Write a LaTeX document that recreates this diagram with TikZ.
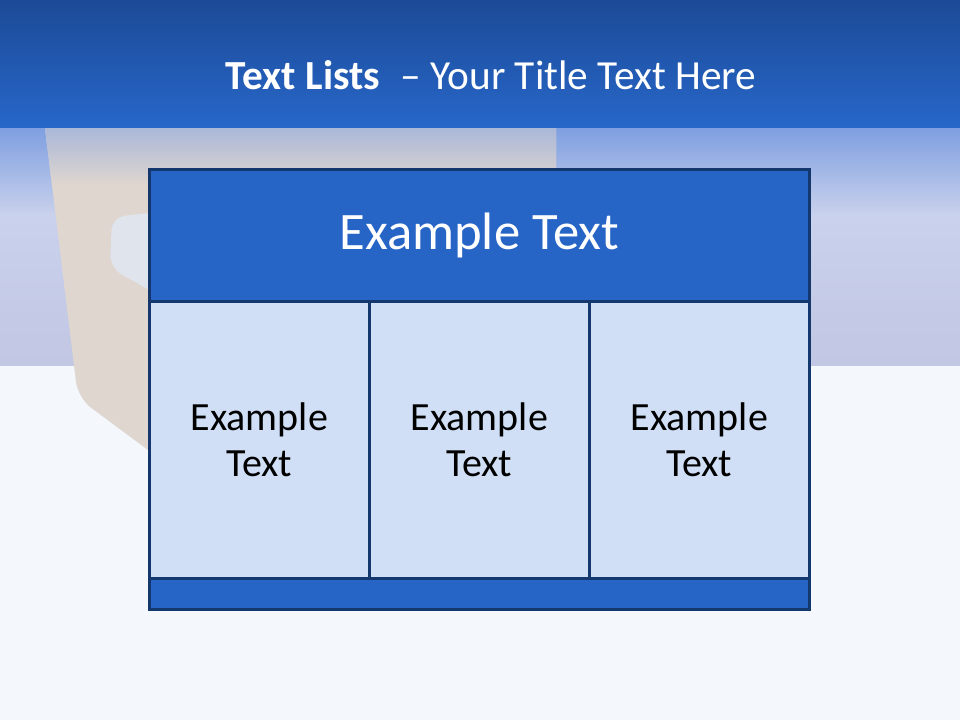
\documentclass[tikz,border=0pt]{standalone}
\usepackage{fontspec}
\setmainfont{Carlito}
\definecolor{bandtop}{HTML}{1C4A97}
\definecolor{bandlow}{HTML}{2767C9}
\definecolor{skyhi}{HTML}{7E9FE0}
\definecolor{skymid}{HTML}{C9D1EC}
\definecolor{lavender}{HTML}{C2C7E3}
\definecolor{floorcol}{HTML}{F4F7FB}
\definecolor{beige}{HTML}{DFD6CF}
\definecolor{handlecol}{HTML}{E0E4EC}
\definecolor{boxblue}{HTML}{2664C6}
\definecolor{cellblue}{HTML}{D0DFF5}
\definecolor{edgeblue}{HTML}{14386E}
\begin{document}
\begin{tikzpicture}[x=0.75pt, y=-0.75pt,
  headbox/.style={draw=edgeblue, line width=2pt, fill=boxblue, text=white,
    anchor=north west, inner sep=0pt, minimum width=495pt},
  cellbox/.style={draw=edgeblue, line width=2pt, fill=cellblue, text=black,
    anchor=north west, inner sep=0pt, minimum width=165pt, minimum height=207.75pt,
    align=center, font=\fontsize{30}{34}\selectfont}]
  \useasboundingbox (0,0) rectangle (960,720);
  % background
  \fill[floorcol] (0,0) rectangle (960,720);
  \shade[top color=skyhi, bottom color=skymid] (0,128) rectangle (960,215);
  \shade[top color=skymid, bottom color=lavender] (0,215) rectangle (960,365);
  % beige panel behind the table
  \fill[beige] (45,128) -- (556,128) -- (556,450) -- (148,450)
    [rounded corners=12pt] -- (78,398) [sharp corners] -- cycle;
  \shade[top color=skyhi!55!beige, bottom color=beige]
    (45,128) -- (556,128) -- (556,185) -- (52,185) -- cycle;
  \fill[handlecol, rounded corners=10pt]
    (112,217) -- (160,212) -- (160,296) -- (110,268) -- cycle;
  % title band
  \shade[top color=bandtop, bottom color=bandlow] (0,0) rectangle (960,128);
  \node[text=white, font=\fontsize{31}{36}\selectfont] (title) at (491,75)
    {\textbf{Text Lists}\enspace – Your Title Text Here};
  % table
  \node[headbox, minimum height=99pt, font=\fontsize{39.5}{44}\selectfont] (header) at (148,168) {Example Text};
  \node[cellbox] (cellA) at (148,300) {Example\\Text};
  \node[cellbox] (cellB) at (368,300) {Example\\Text};
  \node[cellbox] (cellC) at (588,300) {Example\\Text};
  \node[headbox, minimum height=23.25pt] (footer) at (148,577) {};
\end{tikzpicture}
\end{document}
